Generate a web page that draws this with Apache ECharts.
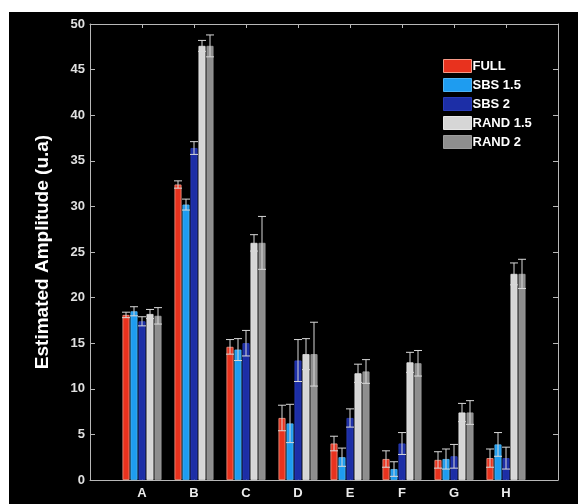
<!DOCTYPE html>
<html>
<head>
<meta charset="utf-8">
<script src="https://cdn.jsdelivr.net/npm/echarts@6/dist/echarts.min.js"></script>
<style>
  html, body { margin: 0; padding: 0; background: #ffffff; }
  #bg { position: absolute; left: 9px; top: 12px; width: 569px; height: 492px; background: #000; }
  #chart { position: absolute; left: 0; top: 0; width: 578px; height: 504px; }
</style>
</head>
<body>
<div id="bg"></div>
<div id="chart"></div>
<script>
// ---- data ----
const categories = ['A', 'B', 'C', 'D', 'E', 'F', 'G', 'H'];
const seriesNames = ['FULL', 'SBS 1.5', 'SBS 2', 'RAND 1.5', 'RAND 2'];
const full     = [18.1, 32.4, 14.6, 6.8, 4.0, 2.3, 2.2, 2.4];
const sbs15    = [18.5, 30.2, 14.3, 6.2, 2.5, 1.2, 2.3, 3.9];
const sbs2     = [17.4, 36.4, 15.0, 13.1, 6.8, 4.0, 2.6, 2.4];
const rand15   = [18.2, 47.6, 26.0, 13.8, 11.7, 12.9, 7.4, 22.6];
const rand2    = [18.0, 47.6, 26.0, 13.8, 11.9, 12.8, 7.4, 22.6];
const fullErr  = [0.3, 0.4, 0.8, 1.4, 0.8, 0.9, 0.9, 1.0];
const sbs15Err = [0.5, 0.6, 1.2, 2.1, 1.0, 0.8, 1.1, 1.3];
const sbs2Err  = [0.5, 0.7, 1.4, 2.3, 1.0, 1.2, 1.3, 1.2];
const rand15Err= [0.5, 0.6, 0.9, 1.7, 1.0, 1.1, 1.0, 1.2];
const rand2Err = [0.9, 1.2, 2.9, 3.5, 1.3, 1.4, 1.3, 1.6];
const yTicks = { min: 0, max: 50, interval: 5 };

// ---- build ----
const means = [full, sbs15, sbs2, rand15, rand2];
const errs = [fullErr, sbs15Err, sbs2Err, rand15Err, rand2Err];
const colors = ['#e8321e', '#1e9cf0', '#1c2ea6', '#d6d6d6', '#8e8e8e'];
const borders = ['#f59a88', '#4fb4f4', '#2a3cb8', '#e6e6e6', '#9c9c9c'];
const axisCats = [''].concat(categories, ['']);
const BAR_W = 7, BAR_STEP = 8;

const font = '"Liberation Sans", Arial, Helvetica, sans-serif';

const series = [];
means.forEach((m, s) => {
  series.push({
    name: seriesNames[s],
    type: 'bar',
    barWidth: BAR_W,
    barGap: '14.3%',
    data: [null].concat(m, [null]),
    itemStyle: { color: colors[s], borderColor: borders[s], borderWidth: 0.8 },
    animation: false
  });
});

// error bars
const errData = [];
means.forEach((m, s) => {
  m.forEach((v, i) => errData.push([i + 1, v, errs[s][i], s]));
});
series.push({
  type: 'custom',
  name: 'err',
  data: errData,
  z: 10,
  animation: false,
  renderItem: function (params, api) {
    const ci = api.value(0), v = api.value(1), e = api.value(2), s = api.value(3);
    const off = (s - 2) * BAR_STEP;
    const top = api.coord([ci, v + e]);
    const bot = api.coord([ci, v - e]);
    const x = top[0] + off;
    const cw = 4;
    const st = { stroke: '#d8d8d8', lineWidth: 1 };
    return {
      type: 'group',
      children: [
        { type: 'line', shape: { x1: x, y1: top[1], x2: x, y2: bot[1] }, style: st },
        { type: 'line', shape: { x1: x - cw, y1: top[1], x2: x + cw, y2: top[1] }, style: st },
        { type: 'line', shape: { x1: x - cw, y1: bot[1], x2: x + cw, y2: bot[1] }, style: st }
      ]
    };
  }
});

const axisLine = { show: true, onZero: false, lineStyle: { color: '#b8b8b8', width: 1 } };
const chart = echarts.init(document.getElementById('chart'));
chart.setOption({
  backgroundColor: 'transparent',
  animation: false,
  grid: { left: 90, right: 20, top: 24, bottom: 24 },
  legend: {
    data: seriesNames.map((n, i) => ({ name: n, icon: 'rect', itemStyle: { borderColor: borders[i], borderWidth: 1 } })),
    orient: 'vertical',
    left: 443,
    top: 59,
    itemWidth: 28,
    itemHeight: 13,
    itemGap: 5,
    padding: 0,
    textStyle: { color: '#ffffff', fontFamily: font, fontWeight: 'bold', fontSize: 13, lineHeight: 13, padding: [0, 0, 0, -4] }
  },
  xAxis: [
    {
      type: 'category', data: axisCats, boundaryGap: false, position: 'bottom',
      axisLine: axisLine,
      axisTick: { show: true, inside: true, length: 4, lineStyle: { color: '#b8b8b8' } },
      axisLabel: { color: '#ececec', fontFamily: font, fontWeight: 'bold', fontSize: 13, margin: 7, interval: 0 },
      splitLine: { show: false }
    },
    {
      type: 'category', data: axisCats, boundaryGap: false, position: 'top',
      axisLine: axisLine,
      axisTick: { show: true, inside: true, length: 4, lineStyle: { color: '#b8b8b8' } },
      axisLabel: { show: false },
      splitLine: { show: false }
    }
  ],
  yAxis: [
    {
      type: 'value', min: yTicks.min, max: yTicks.max, interval: yTicks.interval, position: 'left',
      name: 'Estimated Amplitude (u.a)',
      nameLocation: 'middle', nameGap: 38, nameRotate: 90,
      nameTextStyle: { color: '#ffffff', fontFamily: font, fontWeight: 'bold', fontSize: 19 },
      axisLine: axisLine,
      axisTick: { show: true, inside: true, length: 5, lineStyle: { color: '#b8b8b8' } },
      axisLabel: { color: '#e0e0e0', fontFamily: font, fontWeight: 'bold', fontSize: 13, margin: 5 },
      splitLine: { show: false }
    },
    {
      type: 'value', min: yTicks.min, max: yTicks.max, interval: yTicks.interval, position: 'right',
      axisLine: axisLine,
      axisTick: { show: true, inside: true, length: 5, lineStyle: { color: '#b8b8b8' } },
      axisLabel: { show: false },
      splitLine: { show: false }
    }
  ],
  series: series
});
</script>
</body>
</html>
